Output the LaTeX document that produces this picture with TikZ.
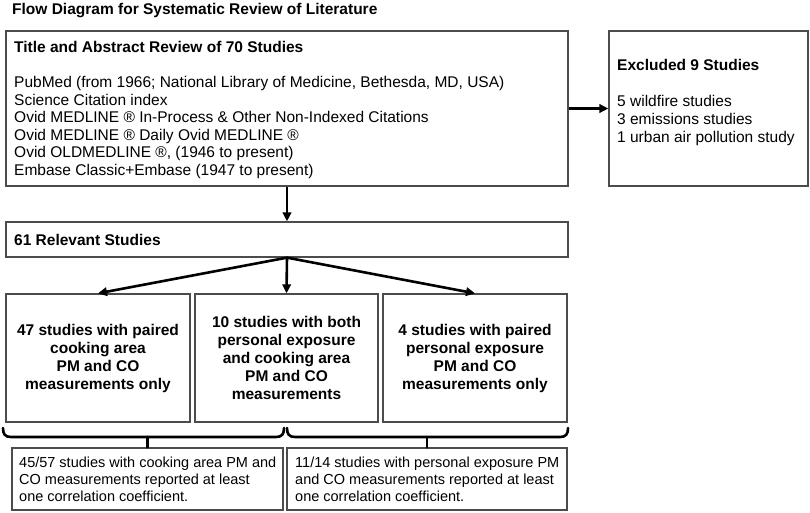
\documentclass[tikz,border=0pt]{standalone}
\usepackage{fontspec}
\setmainfont{Liberation Sans}
\usetikzlibrary{arrows.meta,calc}
\begin{document}
\begin{tikzpicture}[x=1pt,y=-1pt,
  box/.style={draw=black!70, line width=1.3pt, inner sep=0pt},
  bigfont/.style={font=\fontsize{15.5}{17.5}\selectfont},
  txt/.style={bigfont, inner sep=0pt, align=left},
  midtxt/.style={font=\fontsize{15.5}{18}\selectfont\bfseries, align=center},
  smalltxt/.style={font=\fontsize{14.5}{17}\selectfont, inner sep=0pt, align=left},
  flow/.style={line width=2.6pt, -{Triangle[length=9pt,width=8.5pt]}},
  bracestyle/.style={line width=2.6pt, line cap=round, line join=round}
]
\useasboundingbox (0,0) rectangle (810,513);

% title
\node[anchor=base west, inner sep=0pt, font=\fontsize{15.5}{17.5}\selectfont\bfseries] (title) at (12,15) {Flow Diagram for Systematic Review of Literature};

% boxes
\node[box, minimum width=562pt, minimum height=155pt] (top) at (287,108.5) {};
\node[box, minimum width=199pt, minimum height=155pt] (ex) at (708.5,108.5) {};
\node[box, minimum width=562pt, minimum height=35pt] (rel) at (287,239.5) {};
\node[box, minimum width=184pt, minimum height=128pt, midtxt] (left) at (98,358) {47 studies with paired\\cooking area\\PM and CO\\measurements only};
\node[box, minimum width=183pt, minimum height=128pt, midtxt] (mid) at (286.5,358) {10 studies with both\\personal exposure\\and cooking area\\PM and CO\\measurements};
\node[box, minimum width=184pt, minimum height=128pt, midtxt] (right) at (475,358) {4 studies with paired\\personal exposure\\PM and CO\\measurements only};
\node[box, minimum width=271pt, minimum height=62pt] (bl) at (147.5,479) {};
\node[box, minimum width=280pt, minimum height=62pt] (br) at (427,479) {};

% texts
\node[txt, anchor=north west] (toptxt) at (14,41.3) {\textbf{Title and Abstract Review of 70 Studies}\\[17.5pt]
PubMed (from 1966; National Library of Medicine, Bethesda, MD, USA)\\
Science Citation index\\
Ovid MEDLINE \textregistered\ In-Process \& Other Non-Indexed Citations\\
Ovid MEDLINE \textregistered\ Daily Ovid MEDLINE \textregistered\\
Ovid OLDMEDLINE \textregistered, (1946 to present)\\
Embase Classic+Embase (1947 to present)};
\node[txt, anchor=north west, font=\fontsize{15.5}{18}\selectfont] (extxt) at (617,59.3) {\textbf{Excluded 9 Studies}\\[18pt]
5 wildfire studies\\
3 emissions studies\\
1 urban air pollution study};
\node[txt, anchor=west, font=\fontsize{15.5}{18}\selectfont\bfseries] (reltxt) at (14,240) {61 Relevant Studies};
\node[smalltxt, anchor=north west] (bltxt) at (19,457) {45/57 studies with cooking area PM and\\CO measurements reported at least\\one correlation coefficient.};
\node[smalltxt, anchor=north west] (brtxt) at (295,457) {11/14 studies with personal exposure PM\\and CO measurements reported at least\\one correlation coefficient.};

% arrows
\draw[flow] (top.east) -- (ex.west);
\draw[flow] (top.south) -- (rel.north);
\draw[flow] (rel.south) -- (left.north);
\draw[flow] (rel.south) -- (mid.north);
\draw[flow] (rel.south) -- (right.north);

% braces
\coordinate (lbt) at (bl.north);
\coordinate (rbt) at (br.north);
\draw[bracestyle] (3,428) .. controls (3,434) and (5,437) .. (11,437) -- (276,437) .. controls (282,437) and (284,434) .. (284,428);
\draw[bracestyle] (287,428) .. controls (287,434) and (289,437) .. (295,437) -- (560,437) .. controls (566,437) and (568,434) .. (568,428);
\draw[bracestyle] (lbt |- 0,437) -- (lbt);
\draw[bracestyle] (rbt |- 0,437) -- (rbt);
\end{tikzpicture}
\end{document}
